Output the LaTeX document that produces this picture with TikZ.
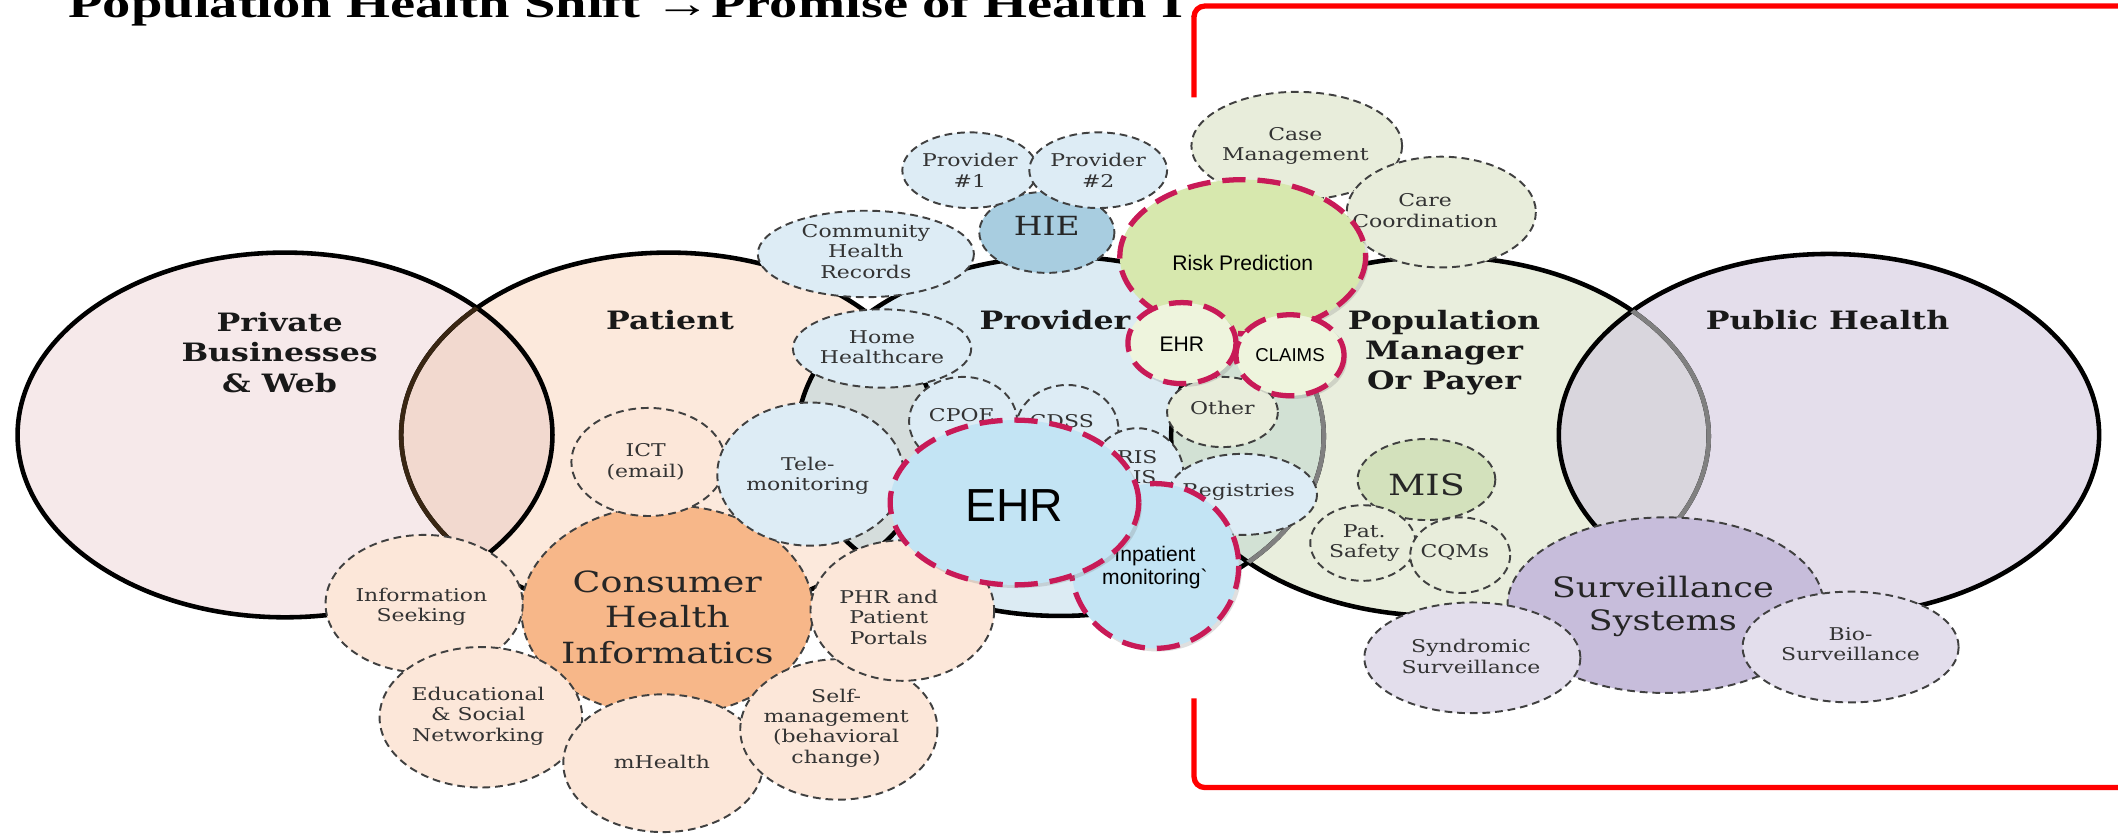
\documentclass[tikz,border=0pt]{standalone}
\usepackage{fontspec}
\setmainfont{DejaVu Serif}[FakeStretch=1.25]
\newfontfamily\arialfont{Liberation Sans}
\newfontfamily\titlefont{Liberation Serif}[FakeStretch=1.4]
\usepackage{xcolor}
\usepackage{tikz}
\usetikzlibrary{shadows}

\definecolor{privcol}{HTML}{F6E9EA}
\definecolor{patcol}{HTML}{FCE9DC}
\definecolor{provcol}{HTML}{DCEBF3}
\definecolor{popcol}{HTML}{E9EEDD}
\definecolor{pubcol}{HTML}{E4DEEB}
\definecolor{lensA}{HTML}{F2D9CF}
\definecolor{lensB}{HTML}{D5DDDC}
\definecolor{lensC}{HTML}{D2E1D4}
\definecolor{lensD}{HTML}{D9D6DD}
\definecolor{peachb}{HTML}{FCE7D9}
\definecolor{chicol}{HTML}{F7B789}
\definecolor{blueb}{HTML}{DDECF5}
\definecolor{hiecol}{HTML}{A8CDE0}
\definecolor{greenb}{HTML}{E8EDDB}
\definecolor{miscol}{HTML}{D3E1BC}
\definecolor{lavb}{HTML}{E3DEEC}
\definecolor{survcol}{HTML}{C7BDDB}
\definecolor{ehrcol}{HTML}{C3E4F4}
\definecolor{riskcol}{HTML}{D7E8AE}
\definecolor{palegr}{HTML}{EEF4DD}
\definecolor{crim}{HTML}{C81A57}

\begin{document}
\begin{tikzpicture}[
    x=0.13508mm, y=-0.13508mm,
    ring/.style={line width=1.3pt},
    bub/.style={draw=black!75, line width=0.55pt, dash pattern=on 2.2pt off 1.4pt},
    redbub/.style={draw=crim, line width=1.5pt, dash pattern=on 6.6pt off 3.4pt,
        drop shadow={opacity=0.25, shadow xshift=0.9pt, shadow yshift=-0.9pt}},
    head/.style={align=center, inner sep=0pt, text=black!90, font=\bfseries\fontsize{7.2}{8.6}\selectfont},
    mid/.style={align=center, inner sep=0pt, text=black!85, font=\fontsize{8.3}{10}\selectfont},
    lbl/.style={align=center, inner sep=0pt, text=black!80, font=\fontsize{5}{5.8}\selectfont},
    sans/.style={align=center, inner sep=0pt, font=\arialfont\fontsize{6}{6.6}\selectfont}
]

\useasboundingbox (0,0) rectangle (1568,617);
\fill[white] (0,0) rectangle (1568,617);

% Title, cut off by the red frame
\begin{scope}
\clip (0,0) rectangle (884,40);
\node[anchor=base west, inner sep=0pt, font=\titlefont\bfseries\fontsize{11.5}{14}\selectfont]
    (title) at (50,13) {Population Health Shift →Promise of Health IT};
\end{scope}

% Big circles
\fill[privcol] (211,322) ellipse [x radius=198, y radius=135];
\fill[patcol] (495,322) ellipse [x radius=198, y radius=135];
\fill[provcol] (785,323) ellipse [x radius=195, y radius=133];
\fill[popcol] (1066,323) ellipse [x radius=199, y radius=133];
\fill[pubcol] (1354,322) ellipse [x radius=200, y radius=134];

% Overlaps
\begin{scope}
\clip (211,322) ellipse [x radius=198, y radius=135];
\fill[lensA] (495,322) ellipse [x radius=198, y radius=135];
\end{scope}
\begin{scope}
\clip (495,322) ellipse [x radius=198, y radius=135];
\fill[lensB] (785,323) ellipse [x radius=195, y radius=133];
\end{scope}
\begin{scope}
\clip (785,323) ellipse [x radius=195, y radius=133];
\fill[lensC] (1066,323) ellipse [x radius=199, y radius=133];
\end{scope}
\begin{scope}
\clip (1066,323) ellipse [x radius=199, y radius=133];
\fill[lensD] (1354,322) ellipse [x radius=200, y radius=134];
\end{scope}

% Outlines
\draw[ring] (211,322) ellipse [x radius=198, y radius=135];
\draw[ring] (495,322) ellipse [x radius=198, y radius=135];
\draw[ring] (785,323) ellipse [x radius=195, y radius=133];
\draw[ring] (1066,323) ellipse [x radius=199, y radius=133];
\draw[ring] (1354,322) ellipse [x radius=200, y radius=134];

% Inner edges of the overlaps
\begin{scope}
\clip (211,322) ellipse [x radius=198, y radius=135];
\draw[ring, draw=black!70!brown] (495,322) ellipse [x radius=198, y radius=135];
\end{scope}
\begin{scope}
\clip (1066,323) ellipse [x radius=199, y radius=133];
\draw[ring, draw=black!50] (785,323) ellipse [x radius=195, y radius=133];
\end{scope}
\begin{scope}
\clip (1354,322) ellipse [x radius=200, y radius=134];
\draw[ring, draw=black!50] (1066,323) ellipse [x radius=199, y radius=133];
\end{scope}

% Circle titles
\node[head] (private) at (207,261) {Private\\Businesses\\\& Web};
\node[head] (patient) at (496,237) {Patient};
\node[head] (provider) at (781,237) {Provider};
\node[head] (popman) at (1069,261) {Population\\Manager\\Or Payer};
\node[head] (pubhealth) at (1353,237) {Public Health};

% Patient side
\draw[bub, fill=chicol] (494,452) ellipse [x radius=108, y radius=78];
\node[mid] (chi) at (494,457) {Consumer\\Health\\Informatics};
\draw[bub, fill=peachb] (480,342) ellipse [x radius=57, y radius=40];
\node[lbl] (ict) at (478,342) {ICT\\(email)};
\draw[bub, fill=blueb] (600,351) ellipse [x radius=69, y radius=53];
\node[lbl] (telemon) at (598,352) {Tele-\\monitoring};
\draw[bub, fill=peachb] (314,447) ellipse [x radius=73, y radius=51];
\node[lbl] (infoseek) at (312,449) {Information\\Seeking};
\draw[bub, fill=peachb] (356,531) ellipse [x radius=75, y radius=52];
\node[lbl] (edu) at (354,530) {Educational\\\& Social\\Networking};
\draw[bub, fill=peachb] (491,565) ellipse [x radius=74, y radius=51];
\node[lbl] (mhealth) at (490,564) {mHealth};
\draw[bub, fill=peachb] (621,540) ellipse [x radius=73, y radius=52];
\node[lbl] (selfman) at (619,539) {Self-\\management\\(behavioral\\change)};
\draw[bub, fill=peachb] (668,452) ellipse [x radius=68, y radius=52];
\node[lbl] (phr) at (658,457) {PHR and\\Patient\\Portals};

% Provider side
\draw[bub, fill=blueb] (641,188) ellipse [x radius=80, y radius=32];
\node[lbl] (chr) at (641,186) {Community\\Health\\Records};
\draw[bub, fill=blueb] (653,258) ellipse [x radius=66, y radius=29];
\node[lbl] (homehc) at (653,257) {Home\\Healthcare};
\draw[bub, fill=hiecol] (775,172) ellipse [x radius=50, y radius=30];
\node[mid, font=\fontsize{7.5}{9}\selectfont] (hie) at (775,167) {HIE};
\draw[bub, fill=blueb] (718,126) ellipse [x radius=50, y radius=28];
\node[lbl] (prov1) at (718,126) {Provider\\\#1};
\draw[bub, fill=blueb] (813,126) ellipse [x radius=51, y radius=28];
\node[lbl] (prov2) at (813,126) {Provider\\\#2};
\draw[bub, fill=blueb] (713,312) ellipse [x radius=40, y radius=33];
\node[lbl] (cpoe) at (712,307) {CPOE};
\draw[bub, fill=blueb] (790,318) ellipse [x radius=38, y radius=33];
\node[lbl] (cdss) at (786,312) {CDSS};
\draw[bub, fill=blueb] (842,350) ellipse [x radius=34, y radius=33];
\node[lbl] (rislis) at (842,346) {RIS\\LIS};
\draw[bub, fill=blueb] (920,366) ellipse [x radius=55, y radius=30];
\node[lbl] (registries) at (917,364) {Registries};
\draw[bub, fill=greenb] (905,305) ellipse [x radius=41, y radius=26];
\node[lbl] (other) at (905,302) {Other};

% Population side
\draw[bub, fill=greenb] (960,108) ellipse [x radius=78, y radius=40];
\node[lbl] (casemgmt) at (959,108) {Case\\Management};
\draw[bub, fill=greenb] (1067,157) ellipse [x radius=70, y radius=41];
\node[lbl] (carecoord) at (1055,156) {Care\\Coordination};
\draw[bub, fill=miscol] (1056,355) ellipse [x radius=51, y radius=30];
\node[mid] (mis) at (1056,359) {MIS};
\draw[bub, fill=greenb] (1009,402) ellipse [x radius=39, y radius=28];
\node[lbl] (patsafety) at (1010,402) {Pat.\\Safety};
\draw[bub, fill=greenb] (1081,411) ellipse [x radius=37, y radius=28];
\node[lbl] (cqms) at (1077,409) {CQMs};

% Public health side
\draw[bub, fill=survcol] (1233,448) ellipse [x radius=117, y radius=65];
\node[mid, font=\fontsize{8}{9.3}\selectfont] (survsys) at (1231,449) {Surveillance\\Systems};
\draw[bub, fill=lavb] (1090,487) ellipse [x radius=80, y radius=41];
\node[lbl] (syndromic) at (1089,486) {Syndromic\\Surveillance};
\draw[bub, fill=lavb] (1370,479) ellipse [x radius=80, y radius=41];
\node[lbl] (biosurv) at (1370,477) {Bio-\\Surveillance};

% Red dashed additions
\draw[redbub, fill=riskcol] (920,190) ellipse [x radius=91, y radius=57];
\node[sans] (riskpred) at (920,195) {Risk Prediction};
\draw[redbub, fill=palegr] (875,254) ellipse [x radius=40, y radius=30];
\node[sans] (ehrsmall) at (875,255) {EHR};
\draw[redbub, fill=palegr] (955,263) ellipse [x radius=40, y radius=30];
\node[sans, font=\arialfont\fontsize{5.3}{6}\selectfont] (claims) at (955,263) {CLAIMS};
\draw[redbub, fill=ehrcol] (855,419) ellipse [x radius=62, y radius=61];
\node[sans] (inpatient) at (855,420) {Inpatient\\monitoring\textasciigrave};
\draw[redbub, fill=ehrcol] (751,372) ellipse [x radius=92, y radius=61];
\node[sans, font=\arialfont\fontsize{13.2}{15}\selectfont] (ehrbig) at (751,374) {EHR};

% Red frame
\draw[red, line width=1.5pt, rounded corners=3pt] (884,72) -- (884,4.5) -- (1580,4.5);
\draw[red, line width=1.5pt, rounded corners=3pt] (884,517) -- (884,583) -- (1580,583);

\end{tikzpicture}
\end{document}
